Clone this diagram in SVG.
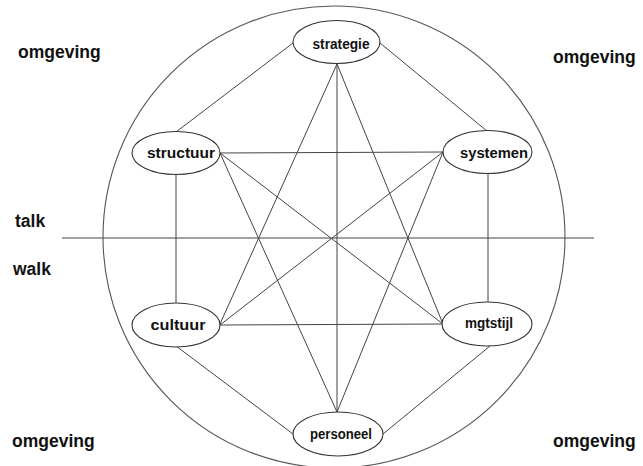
<svg xmlns="http://www.w3.org/2000/svg" width="643" height="466" viewBox="0 0 643 466">
<style>
.bg{fill:#fff}
.node ellipse{fill:#fff;stroke:#333;stroke-width:1.1}
.node text{font-family:"Liberation Sans",Arial,sans-serif;font-weight:bold;font-size:14px;fill:#111;text-anchor:middle}
.lbl{font-family:"Liberation Sans",Arial,sans-serif;font-weight:bold;font-size:17.5px;fill:#111}
#connectors line{stroke:#444;stroke-width:1}
.ring{fill:none;stroke:#555;stroke-width:1.1}
</style>
<rect class="bg" x="0" y="0" width="643" height="466"/>
<circle class="ring" cx="334" cy="237" r="231"/>
<g id="connectors">
<line x1="62" y1="238" x2="594" y2="238"/>
<line x1="293" y1="43" x2="176" y2="132"/>
<line x1="380" y1="43" x2="487" y2="131"/>
<line x1="176" y1="174" x2="176" y2="304"/>
<line x1="488" y1="173" x2="488" y2="303"/>
<line x1="176" y1="346" x2="293" y2="434"/>
<line x1="490" y1="346" x2="383" y2="434"/>
<line x1="337" y1="64" x2="220" y2="324"/>
<line x1="337" y1="64" x2="443" y2="324"/>
<line x1="337" y1="64" x2="337" y2="412"/>
<line x1="220" y1="153" x2="443" y2="152"/>
<line x1="220" y1="325" x2="443" y2="324"/>
<line x1="220" y1="153" x2="443" y2="324"/>
<line x1="443" y1="152" x2="220" y2="325"/>
<line x1="220" y1="153" x2="337" y2="412"/>
<line x1="443" y1="152" x2="337" y2="412"/>
</g>
<g id="strategie" class="node"><ellipse cx="336.5" cy="42" rx="43.5" ry="21.5"/><text x="341" y="49" textLength="57" lengthAdjust="spacingAndGlyphs">strategie</text></g>
<g id="structuur" class="node"><ellipse cx="176" cy="153" rx="44" ry="21.5"/><text x="181" y="158" textLength="68" lengthAdjust="spacingAndGlyphs">structuur</text></g>
<g id="systemen" class="node"><ellipse cx="487.5" cy="152" rx="44.5" ry="21.5"/><text x="494" y="158" textLength="68" lengthAdjust="spacingAndGlyphs">systemen</text></g>
<g id="cultuur" class="node"><ellipse cx="176" cy="325" rx="44" ry="22"/><text x="178" y="330" textLength="55" lengthAdjust="spacingAndGlyphs">cultuur</text></g>
<g id="mgtstijl" class="node"><ellipse cx="487" cy="324" rx="45" ry="22"/><text x="489" y="328" textLength="48" lengthAdjust="spacingAndGlyphs">mgtstijl</text></g>
<g id="personeel" class="node"><ellipse cx="338" cy="434" rx="45" ry="22"/><text x="341" y="439" textLength="62" lengthAdjust="spacingAndGlyphs">personeel</text></g>
<text class="lbl" x="18" y="58">omgeving</text>
<text class="lbl" x="553" y="63">omgeving</text>
<text class="lbl" x="12" y="447">omgeving</text>
<text class="lbl" x="553" y="447">omgeving</text>
<text class="lbl" x="15" y="227">talk</text>
<text class="lbl" x="13" y="275">walk</text>
</svg>
